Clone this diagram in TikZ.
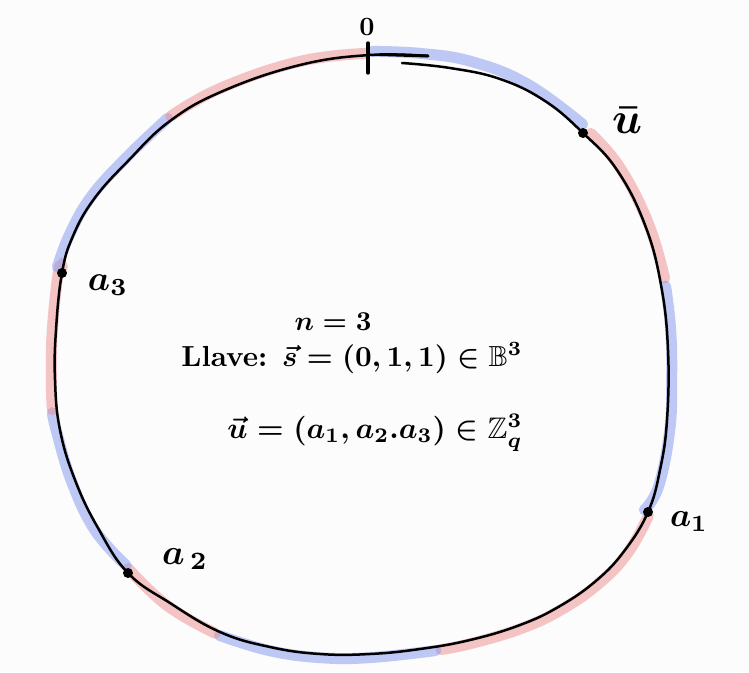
\documentclass[tikz,border=0pt]{standalone}
\usepackage{amsmath,amssymb}
\usepackage{graphicx}
\definecolor{bandred}{RGB}{238,140,140}
\definecolor{bandblue}{RGB}{130,150,238}
\definecolor{paper}{RGB}{252,252,253}
\begin{document}
\begin{tikzpicture}[x=1pt,y=-1pt,
  ring/.style={line width=2.5pt, line cap=round, line join=round},
  redband/.style={line width=11pt, line cap=round, draw=bandred, opacity=0.5},
  blueband/.style={line width=11pt, line cap=round, draw=bandblue, opacity=0.5},
  dotmark/.style={circle, fill=black, inner sep=0pt, minimum size=10pt},
  lab/.style={inner sep=0pt}]
\useasboundingbox (0,0) rectangle (749,672);
\fill[paper] (0,0) rectangle (749,672);
% coloured bands, slightly outside the ring
\begin{scope}[shift={(362,354)}, scale=1.012, shift={(-362,-354)}]
\draw[blueband] plot[smooth, tension=0.7] coordinates {(372,55) (420,57) (470,65) (525,87) (580,127)};
\draw[redband]  plot[smooth, tension=0.7] coordinates {(588,136) (617,170) (645,225) (661,279)};
\draw[blueband] plot[smooth, tension=0.7] coordinates {(662,287) (667,330) (668,380) (666,430) (655,485) (641,508)};
\draw[redband]  plot[smooth, tension=0.7] coordinates {(645,514) (625,550) (597,580) (560,606) (520,625) (470,640) (440,646)};
\draw[blueband] plot[smooth, tension=0.7] coordinates {(435,647) (370,654) (320,654) (270,647) (221,632)};
\draw[redband]  plot[smooth, tension=0.7] coordinates {(217,630) (170,603) (131,566)};
\draw[blueband] plot[smooth, tension=0.7] coordinates {(129,563) (98,528) (75,480) (60,430) (56,412)};
\draw[redband]  plot[smooth, tension=0.7] coordinates {(56,409) (55,380) (56,330) (62,273) (66,268)};
\draw[blueband] plot[smooth, tension=0.7] coordinates {(61,268) (73,236) (94,199) (128,161) (170,121)};
\draw[redband]  plot[smooth, tension=0.7] coordinates {(173,119) (223,91) (300,65) (365,57)};
\end{scope}
% the ring
\draw[ring] plot[smooth, tension=0.7] coordinates {(402,63) (450,68) (500,79) (545,101) (583,133) (617,170) (645,225) (661,285) (668,350) (667,420) (660,470) (648,512) (625,550) (597,580) (560,606) (520,625) (470,640) (420,649) (370,654) (320,654) (270,647) (220,632) (170,603) (128,573) (98,528) (75,480) (60,430) (55,380) (56,330) (62,273) (73,236) (94,199) (128,161) (170,121) (223,91) (300,65) (370,55) (428,56)};
\draw[line width=3pt, line cap=round] (380,54.5) -- (428,56);
% tick at 0
\coordinate (tt) at (368,43);
\coordinate (tb) at (368,73);
\draw[line width=3.4pt, line cap=round] (tt) -- (tb);
\node[lab] (zero) at (367,27) {\resizebox{!}{17pt}{$\boldsymbol{0}$}};
% points
\node[dotmark] (u) at (583,133) {};
\node[dotmark] (p1) at (648,512) {};
\node[dotmark] (p2) at (128,573) {};
\node[dotmark] (p3) at (62,273) {};
\node[lab] (lu) at (627,120) {\resizebox{30pt}{!}{$\boldsymbol{\bar{u}}$}};
\node[lab] (l1) at (689,522) {\resizebox{38pt}{!}{$\boldsymbol{a_1}$}};
\node[lab] (l2) at (185,559) {\resizebox{46pt}{!}{$\boldsymbol{a_{\,2}}$}};
\node[lab] (l3) at (108,285) {\resizebox{40pt}{!}{$\boldsymbol{a_3}$}};
% central text
\node[lab] (n) at (333,322) {\resizebox{77pt}{!}{\boldmath$n=3$}};
\node[lab] (key) at (352,358) {\resizebox{341pt}{!}{\bfseries\boldmath Llave: $\vec{s}=(0,1,1)\in\mathbb{B}^3$}};
\node[lab] (vec) at (375,433) {\resizebox{295pt}{!}{\boldmath$\vec{u}=(a_1,a_2.a_3)\in\mathbb{Z}_q^3$}};
\end{tikzpicture}
\end{document}
